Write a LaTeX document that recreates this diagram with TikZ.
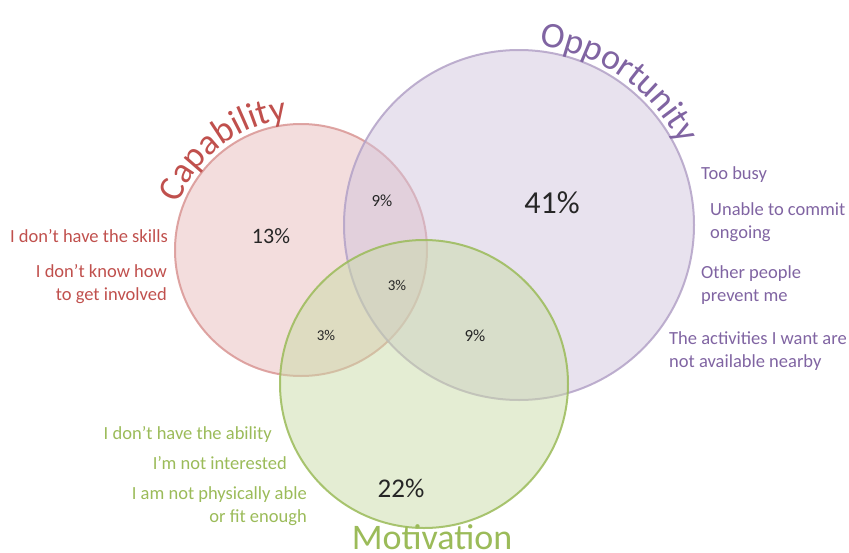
\documentclass[tikz,border=0pt]{standalone}
\usepackage{fontspec}
\setmainfont{Carlito}
\usepackage{tikz}
\usetikzlibrary{decorations.text}
\definecolor{capline}{HTML}{D99694}
\definecolor{capfill}{HTML}{E7BBBB}
\definecolor{captext}{HTML}{C0504D}
\definecolor{oppline}{HTML}{B3A2C7}
\definecolor{oppfill}{HTML}{D1C5DD}
\definecolor{opptext}{HTML}{8064A2}
\definecolor{motline}{HTML}{9BBB59}
\definecolor{motfill}{HTML}{C9DBA7}
\definecolor{mottext}{HTML}{9BBB59}
\tikzset{
  set/.style={line width=2pt, fill opacity=0.5, draw opacity=0.85},
  pct/.style={black!85, inner sep=0pt},
  reason/.style={inner sep=0pt, font=\fontsize{18.5}{23}\selectfont},
}

\begin{document}
\begin{tikzpicture}[x=1pt, y=1pt]
            \useasboundingbox (0, 0) rectangle (849, -552);
            % the three sets
            \draw[set, capline, fill=capfill] (301, -250) circle [radius=126pt];
            \draw[set, oppline, fill=oppfill] (519, -225) circle [radius=175pt];
            \draw[set, motline, fill=motfill] (424, -384) circle [radius=144pt];
            % set names bent round the circles
            \path[decorate, decoration={text along path, text align=center, text color=captext,
                text={|\fontsize{36}{36}\selectfont|Capability}}]
                (301, -250) ++(167:131pt) arc [start angle=167, end angle=88, radius=131pt];
            \path[decorate, decoration={text along path, text align=center, text color=opptext,
                text={|\fontsize{36}{36}\selectfont|Opportunity}}]
                (519, -225) ++(97:180pt) arc [start angle=97, end angle=13, radius=180pt];
            \node[mottext, anchor=base, inner sep=0pt, font=\fontsize{36}{36}\selectfont] (motname) at (432, -549) {Motivation};
            % shares
            \node[pct, font=\fontsize{22}{22}\selectfont] (capOnly) at (271, -236) {13\%};
            \node[pct, font=\fontsize{32}{32}\selectfont] (oppOnly) at (552, -203) {41\%};
            \node[pct, font=\fontsize{27}{27}\selectfont] (motOnly) at (401, -488) {22\%};
            \node[pct, font=\fontsize{17}{17}\selectfont] (capOpp) at (382, -201) {9\%};
            \node[pct, font=\fontsize{17}{17}\selectfont] (oppMot) at (475, -336) {9\%};
            \node[pct, font=\fontsize{15}{15}\selectfont] (capMot) at (326, -335) {3\%};
            \node[pct, font=\fontsize{15}{15}\selectfont] (allThree) at (397, -285) {3\%};
            % reasons given (base of a two-line node is its last line)
            \node[reason, captext, anchor=base east] (skills) at (168, -242) {I don’t have the skills};
            \node[reason, captext, anchor=base east, align=right] (howto) at (167, -300) {I don’t know how\\to get involved};
            \node[reason, opptext, anchor=base west] (busy) at (701, -179) {Too busy};
            \node[reason, opptext, anchor=base west, align=left] (commit) at (710, -238) {Unable to commit\\ongoing};
            \node[reason, opptext, anchor=base west, align=left] (others) at (701, -301) {Other people\\prevent me};
            \node[reason, opptext, anchor=base west, align=left] (nearby) at (669, -367) {The activities I want are\\not available nearby};
            \node[reason, mottext, anchor=base east] (ability) at (272, -439) {I don’t have the ability};
            \node[reason, mottext, anchor=base east] (interest) at (287, -469) {I’m not interested};
            \node[reason, mottext, anchor=base east, align=right] (fit) at (307, -522) {I am not physically able\\or fit enough};
        \end{tikzpicture}
\end{document}
